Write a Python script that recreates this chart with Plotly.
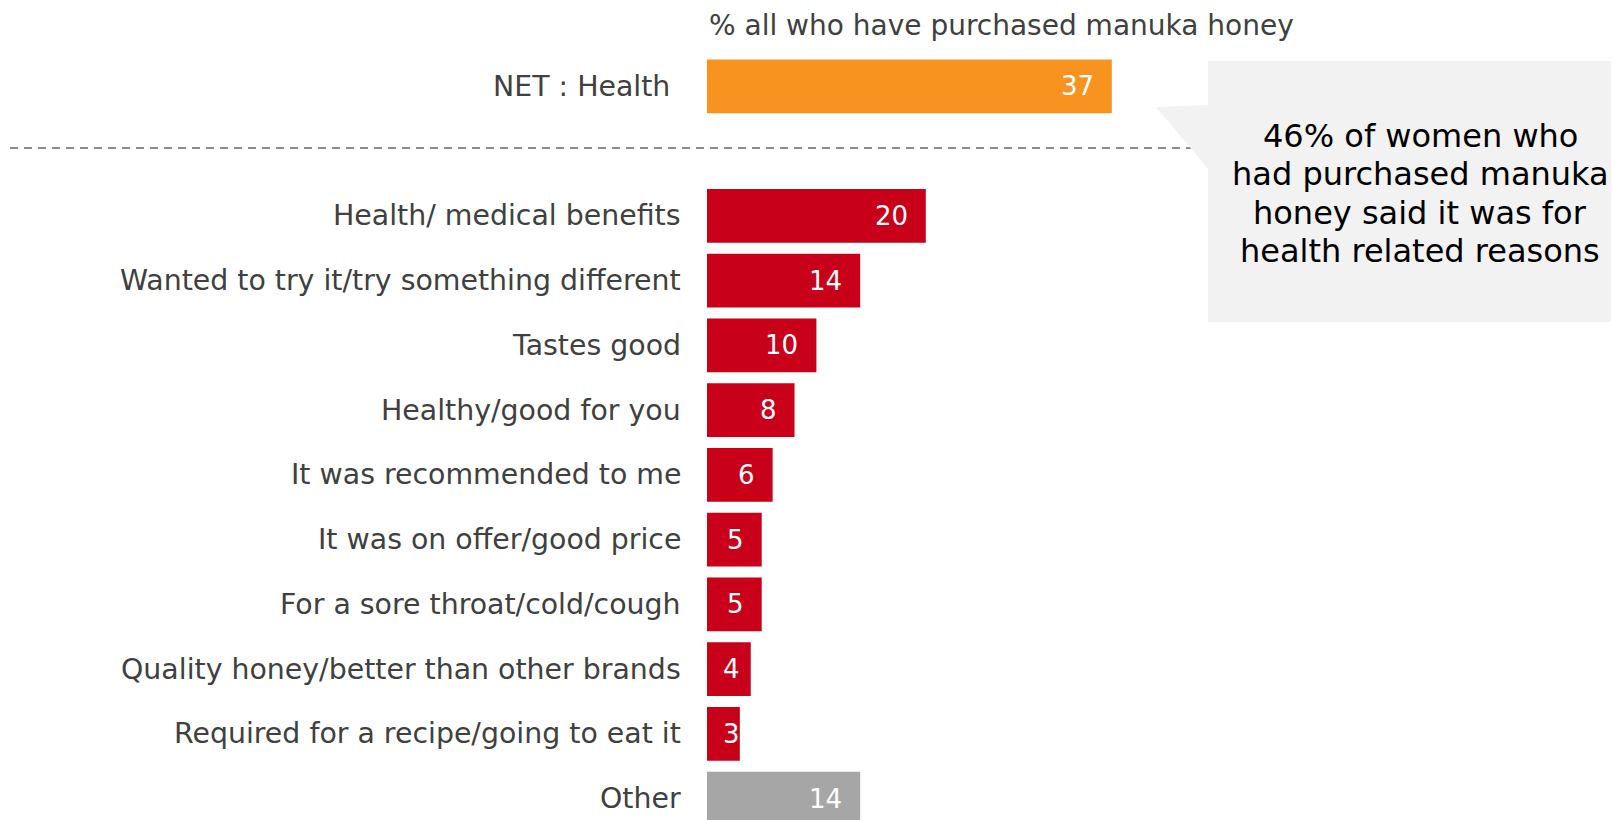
import plotly.graph_objects as go

# ---- data ----
net_label = ["NET : Health"]
net_values = [37]
categories = [
    "Health/ medical benefits",
    "Wanted to try it/try something different",
    "Tastes good",
    "Healthy/good for you",
    "It was recommended to me",
    "It was on offer/good price",
    "For a sore throat/cold/cough",
    "Quality honey/better than other brands",
    "Required for a recipe/going to eat it",
]
values = [20, 14, 10, 8, 6, 5, 5, 4, 3]
other_label = ["Other"]
other_values = [14]
title_text = "% all who have purchased manuka honey"
callout_lines = ["46% of women who", "had purchased manuka",
                 "honey said it was for", "health related reasons"]

# ---- layout constants ----
W, H = 1619, 820
OFF = 8  # page body margin
ORANGE = "#F7931E"
RED = "#C8001A"
GREY = "#A6A6A6"
LABEL_COLOR = "#404040"
LABEL_FONT = "DejaVu Sans, sans-serif"
FS = 28.4

x0_px = 707.0 - OFF
px_per_unit = 10.94
slot_px = 64.75
first_center_px = 86.3 - OFF

net_pos = [0]
cat_pos = [2 + i for i in range(len(categories))]
other_pos = [2 + len(categories)]

fig = go.Figure()
BW = 0.83
fig.add_trace(go.Bar(x=net_values, y=net_pos, orientation="h", width=BW,
                     marker=dict(color=ORANGE, line=dict(width=0)), hoverinfo="skip"))
fig.add_trace(go.Bar(x=values, y=cat_pos, orientation="h", width=BW,
                     marker=dict(color=RED, line=dict(width=0)), hoverinfo="skip"))
fig.add_trace(go.Bar(x=other_values, y=other_pos, orientation="h", width=BW,
                     marker=dict(color=GREY, line=dict(width=0)), hoverinfo="skip"))

annotations = []


def label_shift(v):
    w = v * px_per_unit
    return -max(-3, min(16, w - 35))


all_items = [(net_label[0], net_values[0], net_pos[0], -35)]
all_items += [(c, v, p, -24) for c, v, p in zip(categories, values, cat_pos)]
all_items += [(other_label[0], other_values[0], other_pos[0], -24)]

for lab, v, p, xs in all_items:
    annotations.append(dict(x=0, y=p, xref="x", yref="y", text=lab, showarrow=False,
                            xanchor="right", yanchor="middle", xshift=xs,
                            font=dict(family=LABEL_FONT, size=FS, color=LABEL_COLOR)))
    annotations.append(dict(x=v, y=p, xref="x", yref="y", text=str(v), showarrow=False,
                            xanchor="right", yanchor="middle", xshift=label_shift(v),
                            font=dict(family=LABEL_FONT, size=26, color="white")))


def px(x):
    return (x - OFF) / W


def py(y):
    return 1 - (y - OFF) / H


annotations.append(dict(x=0, y=py(25), xref="x", yref="paper", text=title_text,
                        showarrow=False, xanchor="left", yanchor="middle",
                        font=dict(family=LABEL_FONT, size=28, color=LABEL_COLOR)))

# callout
bx0, bx1, by0, by1 = 1208, 1640, 61, 322
line_gap = 38.2
for i, t in enumerate(callout_lines):
    annotations.append(dict(x=px(1420), y=py(193.5 + (i - 1.5) * line_gap), xref="paper", yref="paper",
                            text=t, showarrow=False, xanchor="center", yanchor="middle",
                            align="center",
                            font=dict(family="DejaVu Sans, sans-serif", size=32, color="black")))

shapes = [
    dict(type="line", xref="paper", yref="paper", x0=px(10), x1=px(1200), y0=py(148), y1=py(148),
         line=dict(color="#8C8C8C", width=2, dash="8px,6px"), layer="below"),
    dict(type="rect", xref="paper", yref="paper", x0=px(bx0), x1=px(bx1), y0=py(by1), y1=py(by0),
         fillcolor="#F2F2F2", line=dict(width=0), layer="above"),
    dict(type="path", xref="paper", yref="paper",
         path=f"M {px(1156)} {py(107)} L {px(1209)} {py(105)} L {px(1209)} {py(170)} Z",
         fillcolor="#F2F2F2", line=dict(width=0), layer="above"),
]

xmin = -x0_px / px_per_unit
xmax = (W - x0_px) / px_per_unit
ytop = -first_center_px / slot_px
ybot = (H - first_center_px) / slot_px

fig.update_layout(
    width=W, height=H, autosize=False,
    margin=dict(l=0, r=0, t=0, b=0, pad=0),
    paper_bgcolor="white", plot_bgcolor="white",
    showlegend=False, barmode="overlay",
    xaxis=dict(range=[xmin, xmax], visible=False, fixedrange=True),
    yaxis=dict(range=[ybot, ytop], visible=False, fixedrange=True),
    annotations=annotations, shapes=shapes,
)

fig.write_html("out.html")
